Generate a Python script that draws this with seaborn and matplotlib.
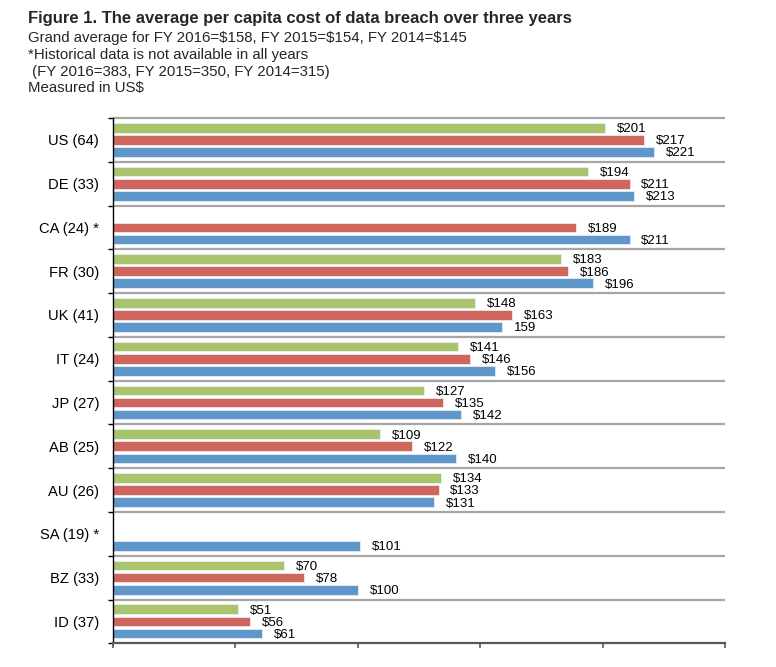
import numpy as np
import pandas as pd
import matplotlib
matplotlib.use("Agg")
import matplotlib.pyplot as plt
import seaborn as sns

sns.set_theme(style="white")
plt.rcParams['font.family'] = ['Liberation Sans', 'DejaVu Sans']

countries = ["US (64)", "DE (33)", "CA (24) *", "FR (30)", "UK (41)", "IT (24)",
             "JP (27)", "AB (25)", "AU (26)", "SA (19) *", "BZ (33)", "ID (37)"]
years = ["FY 2016", "FY 2015", "FY 2014"]
fy2016 = [201, 194, None, 183, 148, 141, 127, 109, 134, None, 70, 51]
fy2015 = [217, 211, 189, 186, 163, 146, 135, 122, 133, None, 78, 56]
fy2014 = [221, 213, 211, 196, 159, 156, 142, 140, 131, 101, 100, 61]
labels2016 = ["$201", "$194", None, "$183", "$148", "$141", "$127", "$109", "$134", None, "$70", "$51"]
labels2015 = ["$217", "$211", "$189", "$186", "$163", "$146", "$135", "$122", "$133", None, "$78", "$56"]
labels2014 = ["$221", "$213", "$211", "$196", "159", "$156", "$142", "$140", "$131", "$101", "$100", "$61"]
colors = ["#AAC46E", "#CE665E", "#6097CA"]
x_ticks = [0, 50, 100, 150, 200, 250]

rows = []
for yr, vals in zip(years, [fy2016, fy2015, fy2014]):
    for c, v in zip(countries, vals):
        if v is not None:
            rows.append({"country": c, "year": yr, "value": v})
df = pd.DataFrame(rows)
label_map = dict(zip(years, [labels2016, labels2015, labels2014]))

fig = plt.figure(figsize=(7.76, 6.67), dpi=100)
ax = fig.add_axes([113/776, 1-643.3/667, (725-113)/776, (643.3-118)/667])

sns.barplot(data=df, y="country", x="value", hue="year", order=countries,
            hue_order=years, palette=colors, saturation=1, orient="h", width=0.83, gap=0.2,
            edgecolor="#EEF3F8", linewidth=0.5, legend=False, ax=ax)

ax.set_xlim(0, 250)
ax.set_ylim(len(countries) - 0.5, -0.5)

# value labels
for cont, yr in zip(ax.containers, years):
    labs = label_map[yr]
    for bar in cont:
        w = bar.get_width()
        if not np.isfinite(w):
            continue
        yc = bar.get_y() + bar.get_height() / 2
        idx = int(round(yc))
        txt = labs[idx]
        if txt is None:
            continue
        ax.annotate(txt, (w, yc), xytext=(8.5, -1), textcoords="offset points",
                    ha="left", va="center", fontsize=9.5, color="black")

# category separators
bounds = np.arange(-0.5, len(countries) - 0.5, 1.0)
ax.hlines(bounds, 0, 250, colors="#A6A6A6", linewidth=1.6, clip_on=False, zorder=0)

for s in ["top", "right"]:
    ax.spines[s].set_visible(False)
ax.spines["left"].set_color("black")
ax.spines["left"].set_linewidth(1.0)
ax.spines["bottom"].set_color("#595959")
ax.spines["bottom"].set_linewidth(1.6)

ax.set_yticks(range(len(countries)))
ax.set_yticklabels(countries)
ax.set_yticks(np.arange(-0.5, len(countries), 1.0), minor=True)
ax.tick_params(axis="y", which="major", length=0, pad=10, labelsize=10.6, labelcolor="black")
ax.tick_params(axis="y", which="minor", length=3.6, width=1.0, color="black", direction="out", left=True)
ax.set_xticks(x_ticks)
ax.set_xticklabels([])
ax.tick_params(axis="x", which="major", length=3.6, width=1.2, color="#595959", direction="out", bottom=True)
ax.set_xlabel("")
ax.set_ylabel("")

fig.text(27.5/776, 1-18.3/667, "Figure 1. The average per capita cost of data breach over three years",
         fontsize=11.95, fontweight="bold", ha="left", va="center")
sub = ["Grand average for FY 2016=$158, FY 2015=$154, FY 2014=$145",
       "*Historical data is not available in all years",
       " (FY 2016=383, FY 2015=350, FY 2014=315)",
       "Measured in US$"]
for s, yy in zip(sub, [37.7, 54.5, 71.7, 88.3]):
    fig.text(27.5/776, 1-yy/667, s, fontsize=10.8, ha="left", va="center")

fig.savefig("out.png", dpi=100)
